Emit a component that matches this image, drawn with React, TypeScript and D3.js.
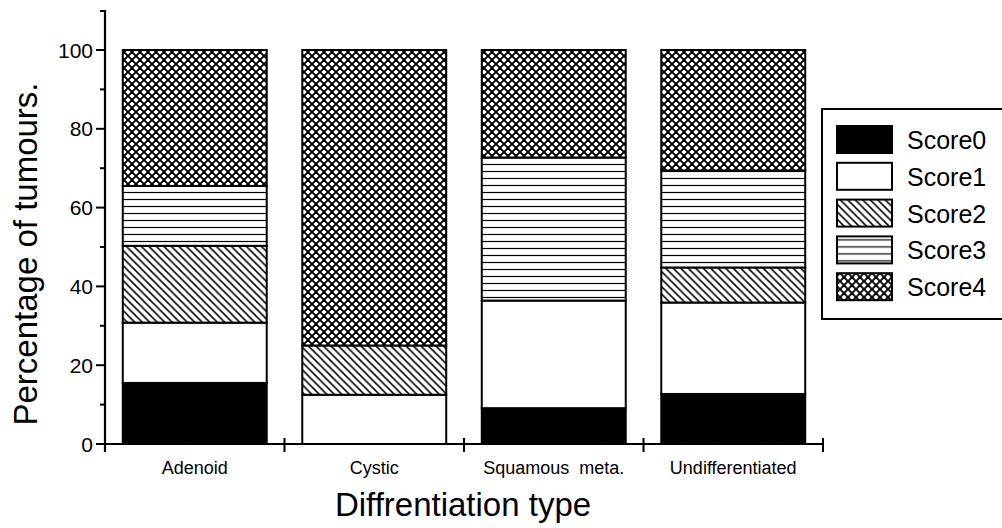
import React from "react";
import * as d3 from "d3";

const categories = ["Adenoid", "Cystic", "Squamous  meta.", "Undifferentiated"];
const seriesNames = ["Score0", "Score1", "Score2", "Score3", "Score4"];
const score0 = [15.5, 0, 9.1, 12.7];
const score1 = [15.3, 12.5, 27.3, 23.2];
const score2 = [19.5, 12.5, 0, 8.9];
const score3 = [15.2, 0, 36.3, 24.6];
const score4 = [34.5, 75, 27.3, 30.6];
const yMajorTicks = [0, 20, 40, 60, 80, 100];
const yMinorTicks = [10, 30, 50, 70, 90];

const seriesValues = [score0, score1, score2, score3, score4];
const fills = ["#000", "#fff", "url(#pDiag)", "url(#pHoriz)", "url(#pCross)"];
const FONT = "'Liberation Sans', Arial, Helvetica, sans-serif";

export default function App() {
  const W = 1002, H = 528;
  const x0 = 105, x1 = 823, yBase = 444, yTop = 50;
  const x = d3.scaleBand<string>().domain(categories).range([x0, x1]).paddingInner(0.198).paddingOuter(0.099);
  const y = d3.scaleLinear().domain([0, 100]).range([yBase, yTop]);
  const rows = categories.map((c, i) => {
    const r: any = { cat: c };
    seriesNames.forEach((s, j) => (r[s] = seriesValues[j][i]));
    return r;
  });
  const stacked = d3.stack<any>().keys(seriesNames)(rows);
  const bounds = [x0, ...categories.map((c) => (x(c)! + x.bandwidth() / 2 + x.step() / 2))];

  return (
    <svg width={W} height={H} style={{ position: "absolute", left: 0, top: 0, background: "#fff" }}>
      <defs>
        <pattern id="pCross" width="8" height="8" patternUnits="userSpaceOnUse">
          <rect width="8" height="8" fill="#fff" />
          <path d="M-1,-1 L9,9 M-1,7 L1,9 M7,-1 L9,1 M-1,9 L9,-1 M-1,1 L1,-1 M7,9 L9,7" stroke="#000" strokeWidth="1.9" />
        </pattern>
        <pattern id="pDiag" width="7.5" height="7.5" patternUnits="userSpaceOnUse">
          <rect width="7.5" height="7.5" fill="#fff" />
          <path d="M-1,-1 L8.5,8.5 M-1,6.5 L1,8.5 M6.5,-1 L8.5,1" stroke="#000" strokeWidth="1.5" />
        </pattern>
        <pattern id="pHoriz" width="10" height="7" patternUnits="userSpaceOnUse">
          <rect width="10" height="7" fill="#fff" />
          <line x1="0" x2="10" y1="3.5" y2="3.5" stroke="#000" strokeWidth="1.2" />
        </pattern>
      </defs>

      {/* bars */}
      {stacked.map((layer, j) =>
        layer.map((d, i) => {
          const h = y(d[0]) - y(d[1]);
          if (h <= 0.01) return null;
          return (
            <rect key={`${j}-${i}`} x={x(categories[i])} y={y(d[1])} width={x.bandwidth()} height={h}
              fill={fills[j]} stroke="#000" strokeWidth={2} />
          );
        })
      )}

      {/* y axis */}
      <line x1={x0} x2={x0} y1={10} y2={452} stroke="#000" strokeWidth={2.2} />
      {yMajorTicks.map((t) => (
        <g key={t}>
          <line x1={x0 - 9} x2={x0} y1={y(t)} y2={y(t)} stroke="#000" strokeWidth={2} />
          <text x={x0 - 12} y={y(t) + 7.5} textAnchor="end" fontFamily={FONT} fontSize={21}>{t}</text>
        </g>
      ))}
      {yMinorTicks.map((t) => (
        <line key={t} x1={x0 - 5} x2={x0} y1={y(t)} y2={y(t)} stroke="#000" strokeWidth={2} />
      ))}
      <line x1={x0 - 5} x2={x0} y1={11} y2={11} stroke="#000" strokeWidth={2} />

      {/* x axis */}
      <line x1={x0 - 5} x2={x1} y1={yBase} y2={yBase} stroke="#000" strokeWidth={2.2} />
      {bounds.map((b, i) => (
        <line key={i} x1={b} x2={b} y1={yBase - 6} y2={yBase + 8} stroke="#000" strokeWidth={2} />
      ))}
      {categories.map((c) => (
        <text key={c} x={x(c)! + x.bandwidth() / 2} y={474} textAnchor="middle" fontFamily={FONT} fontSize={18} style={{ whiteSpace: "pre" }}>{c}</text>
      ))}

      {/* axis titles */}
      <text x={463} y={516} textAnchor="middle" fontFamily={FONT} fontSize={33}>Diffrentiation type</text>
      <text transform="translate(37,254) rotate(-90)" textAnchor="middle" fontFamily={FONT} fontSize={33}>Percentage of tumours.</text>

      {/* legend */}
      <rect x={822} y={109} width={200} height={210} fill="#fff" stroke="#000" strokeWidth={2} />
      {seriesNames.map((s, j) => (
        <g key={s} transform={`translate(0,${126 + j * 36.8})`}>
          <rect x={837} y={0} width={55} height={27} fill={fills[j]} stroke="#000" strokeWidth={2} />
          <text x={907} y={23} fontFamily={FONT} fontSize={25}>{s}</text>
        </g>
      ))}
    </svg>
  );
}
